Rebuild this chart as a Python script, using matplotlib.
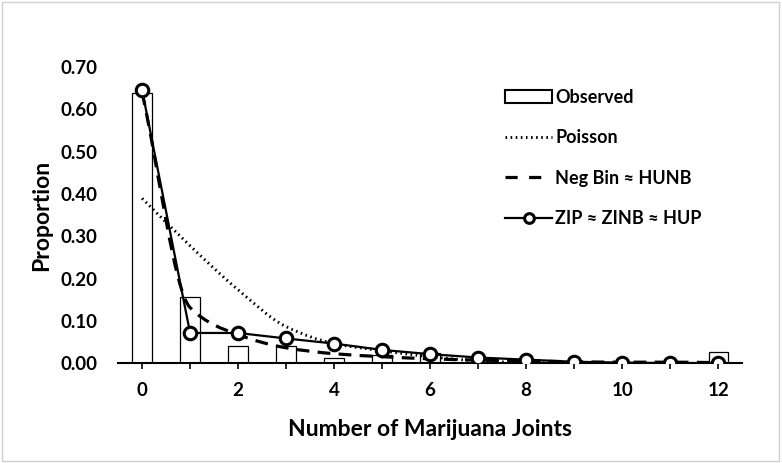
import numpy as np
import matplotlib
matplotlib.use("Agg")
import matplotlib.pyplot as plt
from matplotlib.path import Path
from matplotlib.patches import PathPatch, Rectangle
from matplotlib.lines import Line2D

plt.rcParams["font.family"] = ["Lato", "DejaVu Sans"]
plt.rcParams["font.weight"] = "bold"

joints = [0, 1, 2, 3, 4, 5, 6, 7, 8, 9, 10, 11, 12]
observed = [0.640, 0.157, 0.042, 0.042, 0.012, 0.020, 0.024, 0.004, 0.003, 0.002, 0.001, 0.001, 0.027]
poisson = [0.390, 0.278, 0.174, 0.087, 0.047, 0.030, 0.016, 0.006, 0.002, 0.001, 0.000, 0.000, 0.000]
negbin = [0.640, 0.132, 0.068, 0.037, 0.023, 0.016, 0.011, 0.008, 0.006, 0.004, 0.003, 0.003, 0.002]
zip_ = [0.646, 0.072, 0.072, 0.059, 0.047, 0.032, 0.022, 0.014, 0.009, 0.004, 0.002, 0.001, 0.001]


def smooth_path(xs, ys):
    # monotone cubic (Fritsch-Carlson) tangents -> bezier path, like Excel's smoothed line
    xs = np.asarray(xs, float)
    ys = np.asarray(ys, float)
    h = np.diff(xs)
    d = np.diff(ys) / h
    m = np.zeros_like(ys)
    m[0] = d[0]
    m[-1] = d[-1]
    for i in range(1, len(xs) - 1):
        if d[i - 1] * d[i] <= 0:
            m[i] = 0
        else:
            m[i] = 2 / (1 / d[i - 1] + 1 / d[i])
    verts = [(xs[0], ys[0])]
    codes = [Path.MOVETO]
    for i in range(len(xs) - 1):
        verts += [(xs[i] + h[i] / 3, ys[i] + m[i] * h[i] / 3),
                  (xs[i + 1] - h[i] / 3, ys[i + 1] - m[i + 1] * h[i] / 3),
                  (xs[i + 1], ys[i + 1])]
        codes += [Path.CURVE4] * 3
    return Path(verts, codes)


dotted = (0, (0.55, 1.2))
dashed = (0, (4, 2.6))

fig = plt.figure(figsize=(7.82, 4.63), dpi=100)
ax = fig.add_axes([0.151, 0.215, 0.798, 0.640])

ax.bar(joints, observed, width=0.4, color="white", edgecolor="black", linewidth=0.9, zorder=1)

ax.add_patch(PathPatch(smooth_path(joints, poisson), fill=False, edgecolor="black",
                       linewidth=2.1, linestyle=dotted, zorder=2))
ax.add_patch(PathPatch(smooth_path(joints, negbin), fill=False, edgecolor="black",
                       linewidth=2.3, linestyle=dashed, zorder=3))
ax.plot(joints, zip_, color="black", linewidth=1.6, marker="o", markersize=9,
        markerfacecolor="white", markeredgewidth=2.2, zorder=4)

ax.set_xlim(-0.5, 12.5)
ax.set_ylim(0, 0.70)
ax.set_xticks(joints)
ax.set_xticklabels([str(j) if j % 2 == 0 else "" for j in joints])
ax.set_yticks(np.arange(0, 0.71, 0.1))
ax.set_yticklabels([f"{v:.2f}" for v in np.arange(0, 0.71, 0.1)])

for s in ["top", "right", "left"]:
    ax.spines[s].set_visible(False)
ax.spines["bottom"].set_linewidth(1.5)
ax.tick_params(axis="x", direction="out", length=4, width=1.2, pad=9, labelsize=13.5)
ax.tick_params(axis="y", length=0, pad=15, labelsize=13.5)

ax.set_xlabel("Number of Marijuana Joints", fontsize=16.5, fontweight="bold", labelpad=15)
ax.set_ylabel("Proportion", fontsize=16.5, fontweight="bold", labelpad=6)

handles = [
    Rectangle((0, 0), 1, 1, facecolor="white", edgecolor="black", linewidth=1.5),
    Line2D([], [], color="black", linewidth=2.1, linestyle=dotted),
    Line2D([], [], color="black", linewidth=2.3, linestyle=(0, (3.8, 3.6))),
    Line2D([], [], color="black", linewidth=1.6, marker="o", markersize=7,
           markerfacecolor="white", markeredgewidth=2.2),
]
labels = ["Observed", "Poisson", "Neg Bin \u2248 HUNB", "ZIP \u2248 ZINB \u2248 HUP"]
ax.legend(handles, labels, loc="upper left", bbox_to_anchor=(0.637, 0.824),
          bbox_transform=fig.transFigure, frameon=False, fontsize=13,
          handlelength=2.6, handletextpad=0.15, labelspacing=1.3, borderaxespad=0)

fig.patches.append(Rectangle((0.003, 0.004), 0.993, 0.991, transform=fig.transFigure,
                             fill=False, edgecolor="#d0d0d0", linewidth=1))

fig.savefig("out.png", dpi=100)
